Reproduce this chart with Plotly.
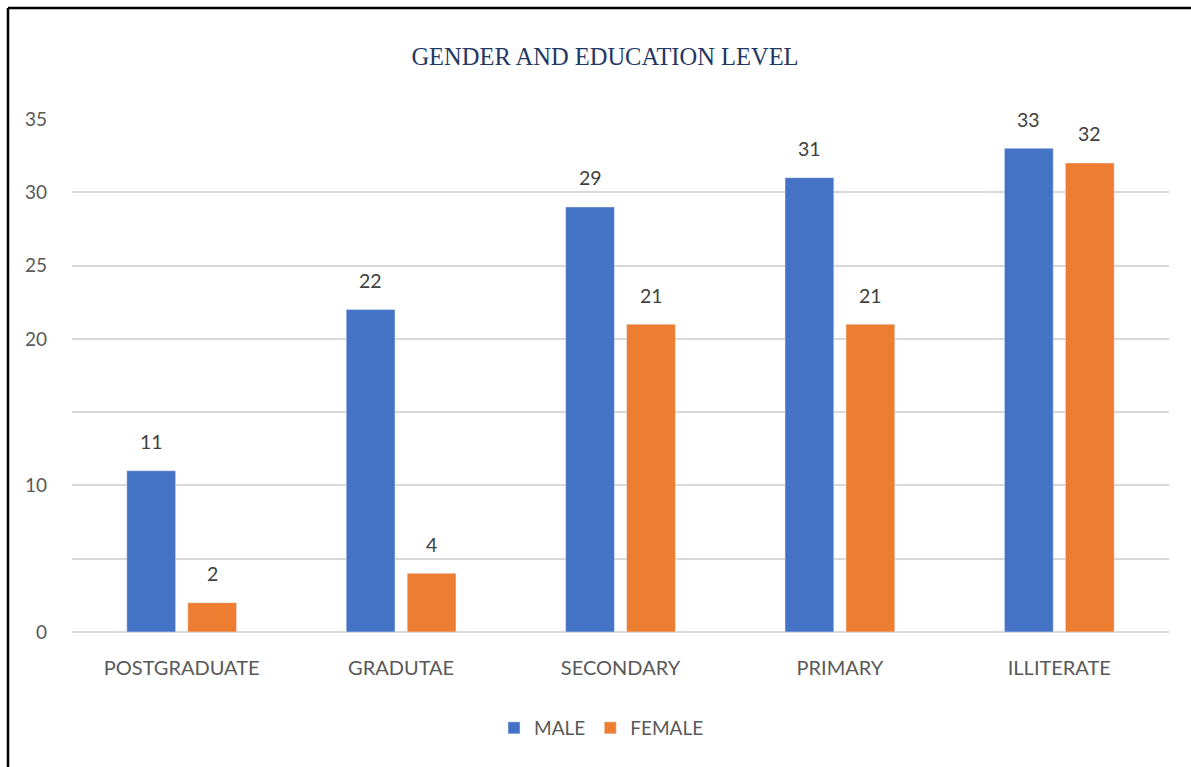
import plotly.graph_objects as go

categories = ["POSTGRADUATE", "GRADUTAE", "SECONDARY", "PRIMARY", "ILLITERATE"]
male = [11, 22, 29, 31, 33]
female = [2, 4, 21, 21, 32]
tick_vals = [0, 5, 10, 15, 20, 25, 30, 35]
tick_text = ["0", "", "10", "", "20", "25", "30", "35"]

W, H = 1191, 767
L, R, T, B = 72, 22, 119, 135
pw, ph = W - L - R, H - T - B
FONT = "Lato, Open Sans, sans-serif"

fig = go.Figure()
fig.add_trace(go.Bar(name="MALE", x=categories, y=male, marker_color="#4472C4"))
fig.add_trace(go.Bar(name="FEMALE", x=categories, y=female, marker_color="#ED7D31"))

annotations = []
for cat, m, f in zip(categories, male, female):
    for v, sh in ((m, -30.5), (f, 30.5)):
        annotations.append(dict(x=cat, y=v, text=str(v), showarrow=False, xshift=sh,
                                yshift=29, yanchor="middle",
                                font=dict(family=FONT, size=19.5, color="#404040")))
fig.update_layout(annotations=annotations)

def px(x):
    return (x - L) / pw

def py(y):
    return (H - B - y) / ph

fig.add_shape(type="line", xref="paper", yref="paper", x0=px(8), x1=px(1200), y0=py(8), y1=py(8),
              line=dict(color="black", width=2.5))
fig.add_shape(type="line", xref="paper", yref="paper", x0=px(8), x1=px(8), y0=py(8), y1=py(780),
              line=dict(color="black", width=2.5))

fig.update_layout(
    width=W, height=H,
    margin=dict(l=L, r=R, t=T, b=B),
    paper_bgcolor="white", plot_bgcolor="white",
    barmode="group", bargap=0.444, bargroupgap=0.2,
    title=dict(text="GENDER AND EDUCATION LEVEL", x=605 / W, xanchor="center",
               y=1 - 56 / H, yanchor="middle",
               font=dict(family="Liberation Serif, DejaVu Serif, serif", size=24.5, color="#1F3864")),
    legend=dict(orientation="h", x=0.5 - 19 / pw, xanchor="center", y=py(728), yanchor="middle",
                font=dict(family=FONT, size=19, color="#595959"),
                itemwidth=30, traceorder="normal"),
    xaxis=dict(showgrid=False, showline=False, ticks="", ticklabelstandoff=22,
               tickfont=dict(family=FONT, size=20, color="#595959")),
    yaxis=dict(range=[0, 35], tickvals=tick_vals, ticktext=tick_text, showgrid=True,
               gridcolor="#D9D9D9", gridwidth=1.5, zeroline=True, zerolinecolor="#D9D9D9",
               zerolinewidth=1.5, showline=False, ticks="", ticklabelstandoff=24,
               tickfont=dict(family=FONT, size=19, color="#595959")),
    font=dict(family=FONT),
)

fig.write_html("out.html")
